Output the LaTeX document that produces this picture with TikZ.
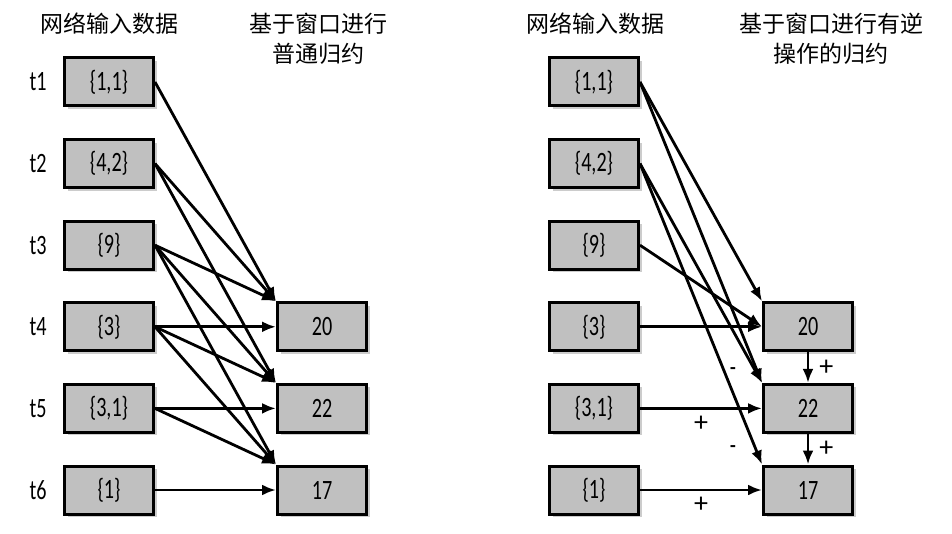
\documentclass[tikz,border=0pt]{standalone}
\usepackage{fontspec}
\setmainfont{Carlito}[FakeStretch=0.72]
\newfontfamily\cjk{Noto Sans CJK SC}
\newfontfamily\sgn{Carlito}
\usetikzlibrary{arrows.meta,shadows}
\definecolor{boxgray}{RGB}{192,192,192}
\tikzstyle{bx}=[rectangle,draw=black,line width=3pt,fill=boxgray,minimum width=89pt,minimum height=48pt,inner sep=0pt,font=\fontsize{28}{30}\selectfont,drop shadow={shadow xshift=3pt,shadow yshift=-3pt,opacity=.4}]
\tikzstyle{ar}=[line width=2.8pt,-{Latex[length=14pt,width=11pt]}]
\tikzstyle{ttl}=[font=\cjk\fontsize{23}{30}\selectfont,align=center]
\tikzstyle{lbl}=[font=\fontsize{28}{30}\selectfont]
\tikzstyle{op}=[font=\sgn\fontsize{28}{30}\selectfont,inner sep=2pt]

\begin{document}
\begin{tikzpicture}[x=1pt,y=-1pt]
	\useasboundingbox (0,0) rectangle (952,534);
	% titles
	\node[ttl] (inL) at (109,24) {网络输入数据};
	\node[ttl] (redL) at (318,39) {基于窗口进行\\普通归约};
	\node[ttl] (inR) at (595,24) {网络输入数据};
	\node[ttl] (redR) at (831,39) {基于窗口进行有逆\\操作的归约};
	% input boxes
	\foreach \i/\v in {1/{1,1},2/{4,2},3/9,4/3,5/{3,1},6/1}{
		\node[lbl] (t\i) at (38,{82+(\i-1)*81.6}) {t\i};
		\node[bx] (a\i) at (109,{82+(\i-1)*81.6}) {\{\v\}};
		\node[bx] (b\i) at (594,{82+(\i-1)*81.6}) {\{\v\}};
	}
	% reduced boxes
	\foreach \i/\v in {4/20,5/22,6/17}{
		\node[bx] (r\i) at (322,{82+(\i-1)*81.6}) {\v};
		\node[bx] (s\i) at (808,{82+(\i-1)*81.6}) {\v};
	}
	% plain window
	\foreach \s/\t in {1/4,2/4,3/4,2/5,3/5,4/5,3/6,4/6,5/6}
	\draw[ar] (a\s.east) -- (r\t.north west);
	\foreach \k in {4,5,6}
	\draw[ar] (a\k.east) -- (r\k.west);
	% inverse window
	\foreach \s/\t in {1/4,1/5,2/5,2/6}
	\draw[ar] (b\s.east) -- (s\t.north west);
	\draw[ar] (b3.east) -- (s4.west);
	\draw[ar] (b4.east) -- (s4.west);
	\draw[ar] (b5.east) -- node[op,below=4pt] (p5) {+} (s5.west);
	\draw[ar] (b6.east) -- node[op,below=4pt] (p6) {+} (s6.west);
	\draw[ar] (s4) -- node[op,right=8pt] (q5) {+} (s5);
	\draw[ar] (s5) -- node[op,right=8pt] (q6) {+} (s6);
	\node[lbl] (m5) at (733,372) {-};
	\node[lbl] (m6) at (733,450) {-};
\end{tikzpicture}
\end{document}
